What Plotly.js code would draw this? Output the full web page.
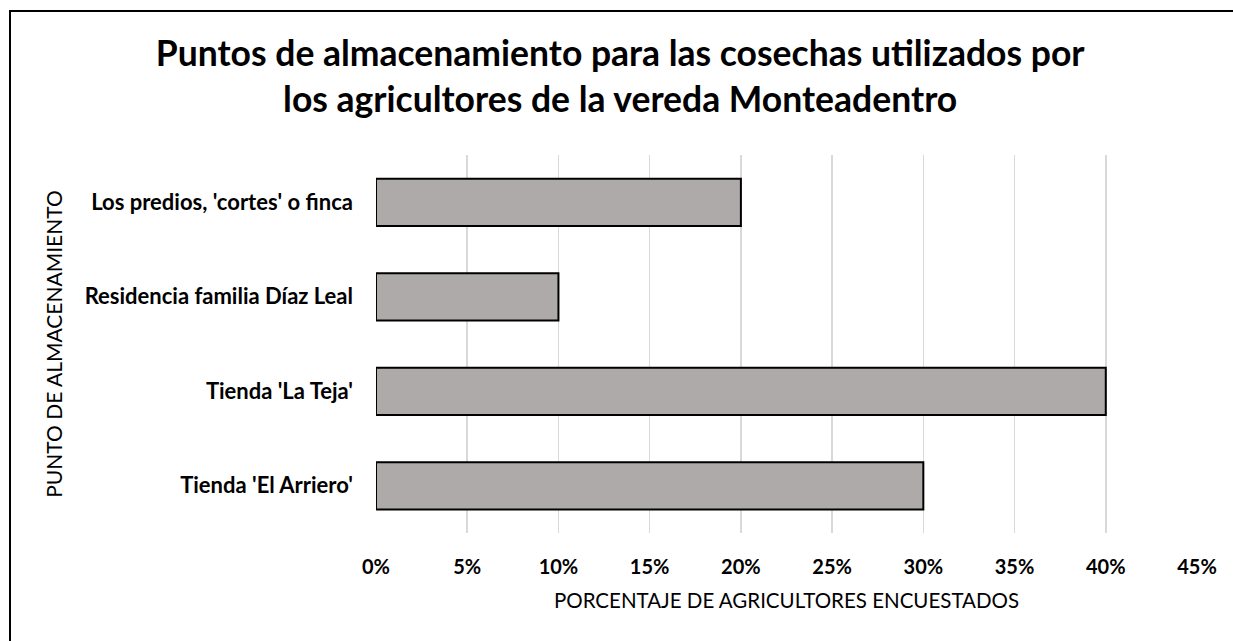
<!DOCTYPE html>
<html>
<head>
<meta charset="utf-8">
<script src="https://cdn.plot.ly/plotly-3.0.1.min.js"></script>
<style>
  html, body { margin: 0; padding: 0; background: #fff; overflow: hidden; }
  #chart { position: absolute; left: 0; top: 0; width: 1233px; height: 641px; }
  #frame {
    position: absolute; left: 9px; top: 10px; width: 1300px; height: 700px;
    border-left: 2px solid #000; border-top: 2px solid #000; pointer-events: none;
  }
</style>
</head>
<body>
<div id="chart"></div>
<div id="frame"></div>
<script>
// storage points, listed bottom to top as in the source sheet
const puntos = ["Tienda 'El Arriero'", "Tienda 'La Teja'", "Residencia familia Díaz Leal", "Los predios, 'cortes' o finca"];
const porcentajes = [0.30, 0.40, 0.10, 0.20];
const ticksX = [0, 0.05, 0.10, 0.15, 0.20, 0.25, 0.30, 0.35, 0.40, 0.45];

const fuente = "Lato, 'Open Sans', sans-serif";

Plotly.newPlot("chart", [{
    type: "bar",
    orientation: "h",
    y: puntos,
    x: porcentajes,
    marker: { color: "#aeaaaa", line: { color: "#000", width: 2 } },
    hoverinfo: "y+x"
}], {
    width: 1233,
    height: 641,
    paper_bgcolor: "#fff",
    plot_bgcolor: "#fff",
    font: { family: fuente, color: "#000" },
    margin: { l: 376, r: 36, t: 155, b: 108 },
    bargap: 0.5,
    showlegend: false,
    title: {
        text: "<b>Puntos de almacenamiento para las cosechas utilizados por<br>los agricultores de la vereda Monteadentro</b>",
        font: { family: fuente, size: 35.5, color: "#000" },
        x: 0.503,
        xanchor: "center",
        y: 0.897,
        yanchor: "top",
        yref: "container"
    },
    xaxis: {
        range: [0, 0.45],
        tickvals: ticksX,
        tickformat: ".0%",
        tickfont: { family: fuente, size: 20, weight: "bold" },
        ticks: "",
        ticklabelstandoff: 20,
        showgrid: true,
        gridcolor: "#d9d9d9",
        gridwidth: 1.5,
        zeroline: false,
        showline: false,
        fixedrange: true,
        title: {
            text: "PORCENTAJE DE AGRICULTORES ENCUESTADOS",
            font: { family: fuente, size: 20.5 },
            standoff: 16
        }
    },
    yaxis: {
        type: "category",
        categoryorder: "array",
        categoryarray: puntos,
        tickfont: { family: fuente, size: 22, weight: "bold" },
        ticks: "",
        ticklabelstandoff: 22,
        showgrid: false,
        zeroline: false,
        showline: false,
        fixedrange: true,
        title: {
            text: "PUNTO DE ALMACENAMIENTO",
            font: { family: fuente, size: 21 },
            standoff: 16
        }
    }
}, { displayModeBar: false, staticPlot: true });
</script>
</body>
</html>
